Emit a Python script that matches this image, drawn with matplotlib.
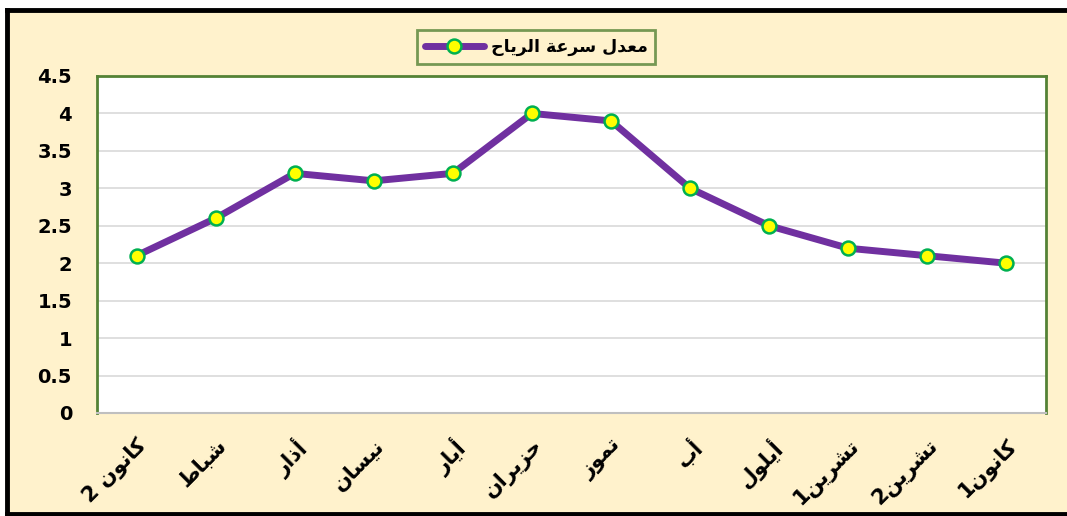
import matplotlib
matplotlib.use("Agg")
import matplotlib.pyplot as plt
from matplotlib.lines import Line2D

# ---- data ----
months = ["كانون 2", "شباط", "أذار", "نيسان", "أيار", "حزيران", "تموز",
          "أب", "أيلول", "تشرين1", "تشرين2", "كانون1"]
wind_speed = [2.1, 2.6, 3.2, 3.1, 3.2, 4.0, 3.9, 3.0, 2.5, 2.2, 2.1, 2.0]
series_name = "معدل سرعة الرياح"
y_ticks = [0, 0.5, 1, 1.5, 2, 2.5, 3, 3.5, 4, 4.5]
y_tick_labels = ["0", "0.5", "1", "1.5", "2", "2.5", "3", "3.5", "4", "4.5"]

# ---- minimal Arabic shaping (presentation forms) + RTL ordering ----
FORMS = {
    'ا': ('\uFE8D', '\uFE8E', None, None),
    'أ': ('\uFE83', '\uFE84', None, None),
    'ب': ('\uFE8F', '\uFE90', '\uFE91', '\uFE92'),
    'ة': ('\uFE93', '\uFE94', None, None),
    'ت': ('\uFE95', '\uFE96', '\uFE97', '\uFE98'),
    'ث': ('\uFE99', '\uFE9A', '\uFE9B', '\uFE9C'),
    'ح': ('\uFEA1', '\uFEA2', '\uFEA3', '\uFEA4'),
    'د': ('\uFEA9', '\uFEAA', None, None),
    'ذ': ('\uFEAB', '\uFEAC', None, None),
    'ر': ('\uFEAD', '\uFEAE', None, None),
    'ز': ('\uFEAF', '\uFEB0', None, None),
    'س': ('\uFEB1', '\uFEB2', '\uFEB3', '\uFEB4'),
    'ش': ('\uFEB5', '\uFEB6', '\uFEB7', '\uFEB8'),
    'ط': ('\uFEC1', '\uFEC2', '\uFEC3', '\uFEC4'),
    'ع': ('\uFEC9', '\uFECA', '\uFECB', '\uFECC'),
    'ك': ('\uFED9', '\uFEDA', '\uFEDB', '\uFEDC'),
    'ل': ('\uFEDD', '\uFEDE', '\uFEDF', '\uFEE0'),
    'م': ('\uFEE1', '\uFEE2', '\uFEE3', '\uFEE4'),
    'ن': ('\uFEE5', '\uFEE6', '\uFEE7', '\uFEE8'),
    'و': ('\uFEED', '\uFEEE', None, None),
    'ي': ('\uFEF1', '\uFEF2', '\uFEF3', '\uFEF4'),
}


def joins_next(c):
    return c in FORMS and FORMS[c][2] is not None


def shape(text):
    out = []
    n = len(text)
    for i, c in enumerate(text):
        if c not in FORMS:
            out.append(c)
            continue
        prev_j = i > 0 and joins_next(text[i - 1])
        next_j = i < n - 1 and text[i + 1] in FORMS and joins_next(c)
        iso, fin, ini, med = FORMS[c]
        if prev_j and next_j:
            out.append(med)
        elif prev_j:
            out.append(fin)
        elif next_j:
            out.append(ini)
        else:
            out.append(iso)
    return "".join(out)[::-1]


plt.rcParams['font.family'] = ['DejaVu Sans']

W, H = 1067, 516
fig = plt.figure(figsize=(W / 100, H / 100), dpi=100)
fig.patch.set_facecolor('white')
fig.patch.set_edgecolor('white')
fig.patch.set_linewidth(0)

# cream background area, with black border on top, left and bottom
fig.patches.append(plt.Rectangle((7 / W, 2 / H), 1.0 - 7 / W, 1 - 11 / H,
                                 transform=fig.transFigure,
                                 facecolor='#FFF2CC', edgecolor='none', zorder=-10))
x_left = 7 / W
x_right = 1.0 - 1 / W
y_top = 1 - 10 / H
y_bot = 2 / H
for xs, ys in [([x_left, x_right], [y_top, y_top]),
               ([x_left, x_left], [y_top, y_bot]),
               ([x_left, x_right], [y_bot, y_bot])]:
    fig.lines.append(Line2D(xs, ys, transform=fig.transFigure, color='black',
                            linewidth=3.5, solid_capstyle='projecting', zorder=-9))

ax = fig.add_axes([97 / W, (H - 413) / H, (1046 - 97) / W, (413 - 76) / H])
ax.set_facecolor('white')

x = list(range(len(months)))
ax.plot(x, wind_speed, color='#7030A0', linewidth=5, marker='o', markersize=10,
        markerfacecolor='#FFFF00', markeredgecolor='#00B050', markeredgewidth=1.8,
        label=shape(series_name), zorder=3, solid_capstyle='round')

ax.set_xlim(-0.5, len(months) - 0.5)
ax.set_ylim(0, 4.5)
ax.set_yticks(y_ticks)
ax.set_yticklabels(y_tick_labels, fontsize=14, fontweight='bold')
ax.set_xticks(x)
ax.set_xticklabels([shape(m) for m in months], rotation=45, ha='right',
                   rotation_mode='anchor', fontsize=15, fontweight='bold')
ax.tick_params(axis='x', length=0, pad=16)
ax.tick_params(axis='y', length=0, pad=18)
ax.grid(axis='y', color='#D9D9D9', linewidth=1.2)
ax.set_axisbelow(True)

for s in ['left', 'right', 'top']:
    ax.spines[s].set_color('#548235')
    ax.spines[s].set_linewidth(2)
ax.spines['bottom'].set_color('#BFBFBF')
ax.spines['bottom'].set_linewidth(1.5)
ax.spines['bottom'].set_zorder(3)

leg = fig.legend(loc='center', bbox_to_anchor=(536 / W, 1 - 47 / H), frameon=True,
                 prop={'size': 12.5, 'weight': 'bold'}, handlelength=3.4,
                 handletextpad=0.4, borderpad=0.45, fancybox=False)
leg.get_frame().set_facecolor('#FFF2CC')
leg.get_frame().set_edgecolor('#548235')
leg.get_frame().set_linewidth(2)

fig.savefig('out.png', dpi=100)
